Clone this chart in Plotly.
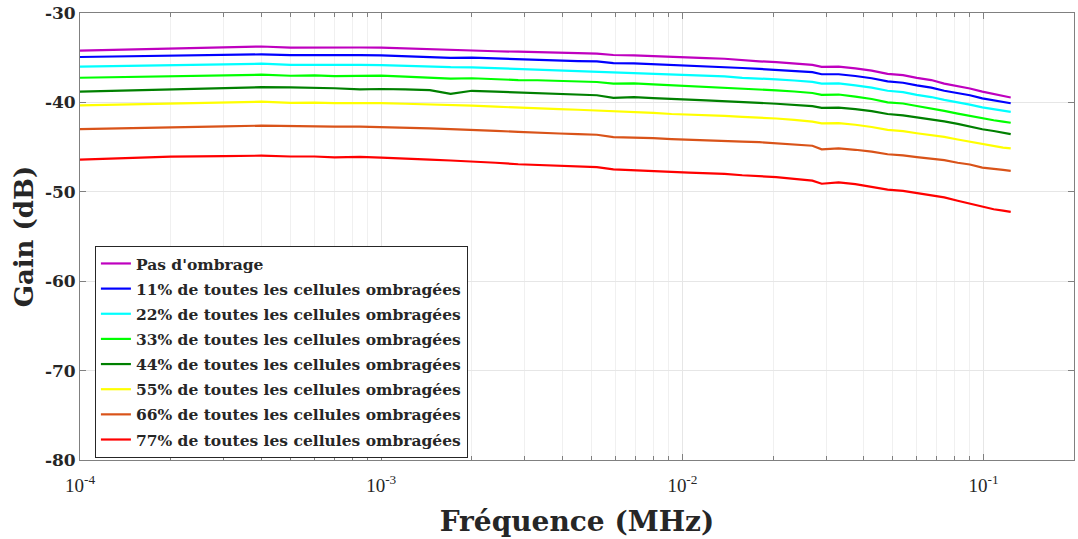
import plotly.graph_objects as go

# Fréquences (MHz)
freq = [1e-4, 2e-4, 3e-4, 4e-4, 5e-4, 6e-4, 7e-4, 8.5e-4, 1.0e-3, 1.2e-3,
        1.45e-3, 1.7e-3, 2.0e-3, 2.4e-3, 2.85e-3, 3.3e-3, 3.9e-3, 4.5e-3, 5.2e-3, 5.9e-3,
        6.9e-3, 8.0e-3, 9.2e-3, 1.05e-2, 1.2e-2, 1.38e-2, 1.58e-2, 1.8e-2, 2.05e-2, 2.35e-2,
        2.7e-2, 2.9e-2, 3.3e-2, 3.75e-2, 4.25e-2, 4.8e-2, 5.4e-2, 6.0e-2, 6.7e-2, 7.4e-2,
        8.2e-2, 9.0e-2, 9.9e-2, 0.108, 0.116, 0.123]

# Gain (dB) pour chaque cas d'ombrage
g_00 = [-34.20, -33.95, -33.85, -33.75, -33.88, -33.85, -33.90, -33.86, -33.88, -33.98,
        -34.05, -34.15, -34.18, -34.28, -34.33, -34.36, -34.45, -34.48, -34.55, -34.70,
        -34.75, -34.85, -34.92, -34.98, -35.05, -35.12, -35.30, -35.40, -35.50, -35.62,
        -35.80, -36.02, -36.00, -36.20, -36.45, -36.80, -36.95, -37.25, -37.50, -37.90,
        -38.15, -38.45, -38.80, -39.05, -39.25, -39.45]
g_11 = [-34.92, -34.78, -34.70, -34.63, -34.72, -34.70, -34.75, -34.72, -34.74, -34.85,
        -34.90, -35.02, -35.00, -35.10, -35.18, -35.22, -35.30, -35.38, -35.42, -35.60,
        -35.63, -35.72, -35.80, -35.85, -35.92, -36.00, -36.15, -36.25, -36.35, -36.48,
        -36.62, -36.85, -36.85, -37.05, -37.30, -37.65, -37.80, -38.10, -38.35, -38.70,
        -38.95, -39.20, -39.55, -39.75, -39.95, -40.10]
g_22 = [-36.00, -35.86, -35.76, -35.67, -35.80, -35.78, -35.84, -35.80, -35.82, -35.92,
        -35.98, -36.06, -36.08, -36.18, -36.26, -36.30, -36.40, -36.45, -36.52, -36.66,
        -36.68, -36.78, -36.86, -36.92, -37.00, -37.08, -37.25, -37.32, -37.42, -37.55,
        -37.70, -37.90, -37.88, -38.10, -38.35, -38.70, -38.85, -39.15, -39.40, -39.72,
        -39.98, -40.25, -40.55, -40.75, -40.90, -41.05]
g_33 = [-37.24, -37.10, -37.00, -36.90, -37.02, -36.98, -37.05, -37.00, -37.00, -37.12,
        -37.20, -37.35, -37.30, -37.42, -37.50, -37.52, -37.60, -37.65, -37.72, -37.90,
        -37.87, -37.98, -38.08, -38.15, -38.22, -38.30, -38.48, -38.55, -38.65, -38.78,
        -38.95, -39.15, -39.12, -39.35, -39.62, -40.00, -40.12, -40.40, -40.65, -40.95,
        -41.25, -41.50, -41.82, -42.00, -42.15, -42.28]
g_44 = [-38.80, -38.55, -38.45, -38.30, -38.32, -38.35, -38.42, -38.55, -38.50, -38.55,
        -38.62, -39.05, -38.70, -38.80, -38.87, -38.95, -39.05, -39.12, -39.20, -39.50,
        -39.40, -39.52, -39.65, -39.70, -39.78, -39.85, -39.98, -40.05, -40.15, -40.28,
        -40.42, -40.62, -40.58, -40.75, -40.98, -41.30, -41.45, -41.68, -41.88, -42.12,
        -42.40, -42.70, -43.00, -43.20, -43.40, -43.55]
g_55 = [-40.33, -40.10, -40.00, -39.92, -40.05, -40.02, -40.08, -40.05, -40.07, -40.15,
        -40.20, -40.28, -40.35, -40.48, -40.60, -40.65, -40.75, -40.82, -40.90, -41.02,
        -41.05, -41.18, -41.30, -41.35, -41.42, -41.50, -41.62, -41.70, -41.80, -41.95,
        -42.15, -42.35, -42.32, -42.50, -42.75, -43.08, -43.22, -43.45, -43.65, -43.85,
        -44.15, -44.40, -44.70, -44.90, -45.05, -45.15]
g_66 = [-43.00, -42.75, -42.68, -42.60, -42.66, -42.65, -42.72, -42.70, -42.75, -42.82,
        -42.90, -43.00, -43.05, -43.18, -43.30, -43.35, -43.48, -43.55, -43.62, -43.88,
        -43.90, -44.00, -44.10, -44.15, -44.20, -44.28, -44.38, -44.45, -44.58, -44.70,
        -44.85, -45.25, -45.15, -45.30, -45.50, -45.80, -45.92, -46.12, -46.30, -46.45,
        -46.75, -46.95, -47.30, -47.40, -47.55, -47.65]
g_77 = [-46.40, -46.07, -46.00, -45.96, -46.05, -46.05, -46.15, -46.10, -46.18, -46.25,
        -46.40, -46.50, -46.58, -46.75, -46.92, -46.98, -47.10, -47.18, -47.25, -47.50,
        -47.57, -47.65, -47.78, -47.85, -47.90, -48.00, -48.15, -48.22, -48.35, -48.55,
        -48.75, -49.10, -48.95, -49.15, -49.45, -49.75, -49.90, -50.15, -50.40, -50.62,
        -51.00, -51.35, -51.70, -51.95, -52.10, -52.25]

noms = ["Pas d'ombrage",
        "11% de toutes les cellules ombragées",
        "22% de toutes les cellules ombragées",
        "33% de toutes les cellules ombragées",
        "44% de toutes les cellules ombragées",
        "55% de toutes les cellules ombragées",
        "66% de toutes les cellules ombragées",
        "77% de toutes les cellules ombragées"]
gains = [g_00, g_11, g_22, g_33, g_44, g_55, g_66, g_77]
couleurs = ['#BF00BF', '#0000FF', '#00FFFF', '#00FF00', '#008000', '#FFFF00', '#D95319', '#FF0000']

x_ticks = [1e-4, 1e-3, 1e-2, 1e-1]
x_ticktext = ['10<sup>-4</sup>', '10<sup>-3</sup>', '10<sup>-2</sup>', '10<sup>-1</sup>']
# graduations secondaires (2..9 par décade)
x_minor = [m * d for d in [1e-4, 1e-3, 1e-2, 1e-1] for m in range(2, 10)]
y_ticks = [-80, -70, -60, -50, -40, -30]
y_ticktext = ['-80', '-70', '-60', '-50', '-40', '-30']

fig = go.Figure()
for i, (nom, g, c) in enumerate(zip(noms, gains, couleurs)):
    fig.add_trace(go.Scatter(x=freq, y=g, mode='lines', name=nom, legendgroup=str(i),
                             line=dict(color=c, width=2.2)))

serif = "DejaVu Serif"
fig.update_layout(
    width=1078, height=539,
    margin=dict(l=80, r=4, t=13, b=79),
    plot_bgcolor='white', paper_bgcolor='white',
    font=dict(family=serif, color='#262626'),
    legend=dict(x=0.015, y=0.479, xanchor='left', yanchor='top',
                bgcolor='white', bordercolor='#262626', borderwidth=1,
                font=dict(family=serif, size=15.5, color='#262626', weight='bold'),
                itemwidth=30, tracegroupgap=2),
)
fig.update_xaxes(
    type='log', range=[-4, -0.70], automargin=False,
    tickvals=x_ticks, ticktext=x_ticktext, ticklabelstandoff=8,
    tickfont=dict(family="Liberation Serif", size=19, color='#262626'),
    ticks='inside', ticklen=6, tickcolor='#808080',
    showline=True, linecolor='#808080', linewidth=1, mirror='allticks',
    showgrid=True, gridcolor='#E6E6E6',
    minor=dict(tickmode='array', tickvals=x_minor, ticks='inside', ticklen=4,
               tickcolor='#808080', showgrid=True, gridcolor='#F0F0F0'),
    title=dict(text='<b>Fréquence (MHz)</b>', font=dict(family=serif, size=28, color='#262626'),
               standoff=16),
    zeroline=False,
)
fig.update_yaxes(
    range=[-80, -30], automargin=False,
    tickvals=y_ticks, ticktext=y_ticktext,
    tickfont=dict(family=serif, size=17, color='#262626', weight='bold'),
    ticks='inside', ticklen=6, tickcolor='#808080',
    showline=True, linecolor='#808080', linewidth=1, mirror='allticks',
    showgrid=True, gridcolor='#E6E6E6',
    title=dict(text='<b>Gain (dB)</b>', font=dict(family=serif, size=26, color='#262626'),
               standoff=3),
    zeroline=False,
)

# supprime la marge de 8 px que le navigateur met autour du graphique
fig.write_html("out.html", config={'displayModeBar': False},
               post_script="document.body.style.margin='0';")
